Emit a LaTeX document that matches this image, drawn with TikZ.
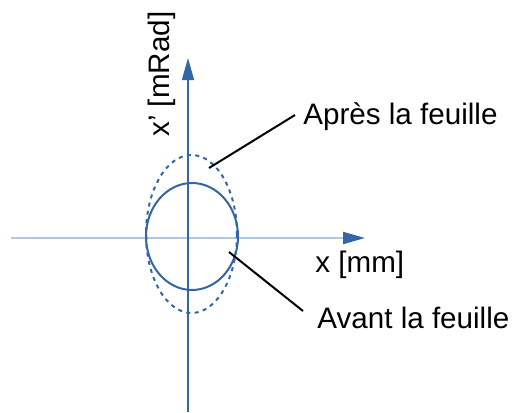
\documentclass[tikz,border=0pt]{standalone}
\usepackage{fontspec}
\setmainfont{Liberation Sans}
\usetikzlibrary{arrows.meta}
\definecolor{axisblue}{HTML}{3465A4}
\definecolor{lightaxis}{HTML}{B4C7DC}

\begin{document}
\begin{tikzpicture}[x=0.5pt,y=-0.5pt,
        lbl/.style={anchor=base west,inner sep=0pt,font=\fontsize{14.8}{17}\selectfont},
        tip/.style={-{Triangle[length=11pt,width=6pt,color=axisblue,fill=axisblue]}}]
        \useasboundingbox (0,0) rectangle (512,412);
        \coordinate (xL) at (11,238);
        \coordinate (xR) at (365,238);
        \coordinate (yB) at (188,412);
        \coordinate (yT) at (188,58);
        \draw[lightaxis,line width=1pt,tip] (xL)--(xR);
        \draw[axisblue,line width=0.75pt,tip] (yB)--(yT);

        \draw[axisblue,line width=1pt] (192,236.5) ellipse [x radius=46,y radius=53.5];
        \draw[axisblue,line width=1pt,dash pattern=on 2pt off 2.2pt] (191.5,234) ellipse [x radius=45.5,y radius=79];

        \draw (169,137) node[lbl,rotate=90] (xp) {x' [mRad]};
        \draw (315,272) node[lbl] (xmm) {x [mm]};
        \draw (303,124) node[lbl] (apres) {Après la feuille};
        \draw (317,328) node[lbl] (avant) {Avant la feuille};

        \coordinate (apresPt) at (209,168);
        \coordinate (apresEnd) at (295,115);
        \coordinate (avantPt) at (229,252);
        \coordinate (avantEnd) at (303,311);
        \draw[line width=1pt] (apresPt)--(apresEnd);
        \draw[line width=1pt] (avantPt)--(avantEnd);
\end{tikzpicture}
\end{document}
